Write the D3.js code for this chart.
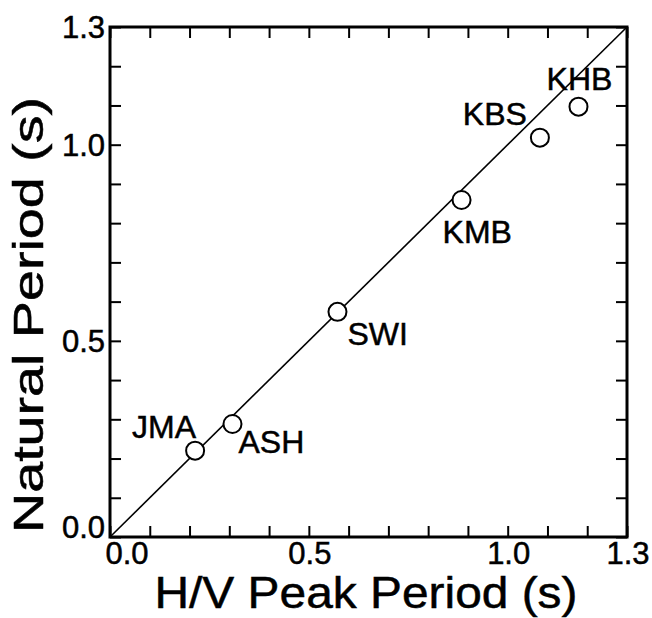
<!DOCTYPE html>
<html>
<head>
<meta charset="utf-8">
<script src="https://cdn.jsdelivr.net/npm/d3@7"></script>
<style>
  html, body { margin: 0; padding: 0; background: #fff; }
  svg { display: block; font-family: "Liberation Sans", Arial, Helvetica, sans-serif; }
  text { fill: #000; stroke: #000; stroke-width: 0.5px; }
</style>
</head>
<body>
<svg id="chart" width="652" height="618"></svg>
<script>
// ---- data ----
const stations = ["JMA", "ASH", "SWI", "KMB", "KBS", "KHB"];
const hvPeakPeriod = [0.214, 0.308, 0.572, 0.884, 1.081, 1.178];
const naturalPeriod = [0.220, 0.288, 0.574, 0.859, 1.018, 1.097];
const tickLabels = [0.0, 0.5, 1.0, 1.3];
const minorTicks = d3.range(0, 14).map(i => i / 10);
const xTitle = "H/V Peak Period (s)";
const yTitle = "Natural Period (s)";

// label placement (offsets from the point, in px) and anchor
const labelPlacement = {
  JMA: { dx: 1,   dy: -13, anchor: "end" },
  ASH: { dx: 6,   dy: 29,  anchor: "start" },
  SWI: { dx: 10,  dy: 33,  anchor: "start" },
  KMB: { dx: -19, dy: 43,  anchor: "start" },
  KBS: { dx: -13, dy: -13, anchor: "end" },
  KHB: { dx: 1,   dy: -17, anchor: "middle" }
};

// ---- layout ----
const W = 652, H = 618;
const margin = { left: 110, top: 27, right: 25, bottom: 81 };
const iw = W - margin.left - margin.right;
const ih = H - margin.top - margin.bottom;

const svg = d3.select("#chart");
const g = svg.append("g").attr("transform", `translate(${margin.left},${margin.top})`);

const x = d3.scaleLinear().domain([0, 1.3]).range([0, iw]);
const y = d3.scaleLinear().domain([0, 1.3]).range([ih, 0]);

// ticks (inward) on all four sides
const tickLen = 11;
function styleAxis(sel) {
  sel.select(".domain").remove();
  sel.selectAll(".tick line").attr("stroke", "#000").attr("stroke-width", 2);
  sel.selectAll(".tick text").remove();
}
g.append("g").attr("transform", `translate(0,${ih})`)
  .call(d3.axisBottom(x).tickValues(minorTicks).tickSizeInner(-tickLen).tickSizeOuter(0).tickFormat(""))
  .call(styleAxis);
g.append("g")
  .call(d3.axisTop(x).tickValues(minorTicks).tickSizeInner(-tickLen).tickSizeOuter(0).tickFormat(""))
  .call(styleAxis);
g.append("g")
  .call(d3.axisLeft(y).tickValues(minorTicks).tickSizeInner(-tickLen).tickSizeOuter(0).tickFormat(""))
  .call(styleAxis);
g.append("g").attr("transform", `translate(${iw},0)`)
  .call(d3.axisRight(y).tickValues(minorTicks).tickSizeInner(-tickLen).tickSizeOuter(0).tickFormat(""))
  .call(styleAxis);

// frame
g.append("rect")
  .attr("x", 0).attr("y", 0).attr("width", iw).attr("height", ih)
  .attr("fill", "none").attr("stroke", "#000").attr("stroke-width", 3);

// 1:1 line
g.append("line")
  .attr("x1", x(0)).attr("y1", y(0)).attr("x2", x(1.3)).attr("y2", y(1.3))
  .attr("stroke", "#000").attr("stroke-width", 1.6);

// tick labels
const fmt = d3.format(".1f");
g.selectAll(".xlab").data(tickLabels).enter().append("text")
  .attr("class", "xlab")
  .attr("x", d => x(d) + (d === 0 ? 17 : 1))
  .attr("y", ih + 27)
  .attr("text-anchor", "middle")
  .attr("font-size", 31)
  .text(d => fmt(d));
g.selectAll(".ylab").data(tickLabels).enter().append("text")
  .attr("class", "ylab")
  .attr("x", -5)
  .attr("y", d => y(d) + (d === 0 ? 1 : 11))
  .attr("text-anchor", "end")
  .attr("font-size", 31)
  .text(d => fmt(d));

// points
const pts = stations.map((s, i) => ({ name: s, hv: hvPeakPeriod[i], nat: naturalPeriod[i] }));
g.selectAll("circle.pt").data(pts).enter().append("circle")
  .attr("class", "pt")
  .attr("cx", d => x(d.hv)).attr("cy", d => y(d.nat)).attr("r", 9)
  .attr("fill", "#fff").attr("stroke", "#000").attr("stroke-width", 2);

g.selectAll("text.stn").data(pts).enter().append("text")
  .attr("class", "stn")
  .attr("x", d => x(d.hv) + labelPlacement[d.name].dx)
  .attr("y", d => y(d.nat) + labelPlacement[d.name].dy)
  .attr("text-anchor", d => labelPlacement[d.name].anchor)
  .attr("font-size", 32)
  .text(d => d.name);

// axis titles
svg.append("text")
  .attr("x", 366).attr("y", 608)
  .attr("text-anchor", "middle")
  .attr("font-size", 44)
  .attr("textLength", 423).attr("lengthAdjust", "spacingAndGlyphs")
  .text(xTitle);
svg.append("text")
  .attr("transform", "translate(43,315) rotate(-90)")
  .attr("text-anchor", "middle")
  .attr("font-size", 42)
  .attr("textLength", 436).attr("lengthAdjust", "spacingAndGlyphs")
  .text(yTitle);
</script>
</body>
</html>
